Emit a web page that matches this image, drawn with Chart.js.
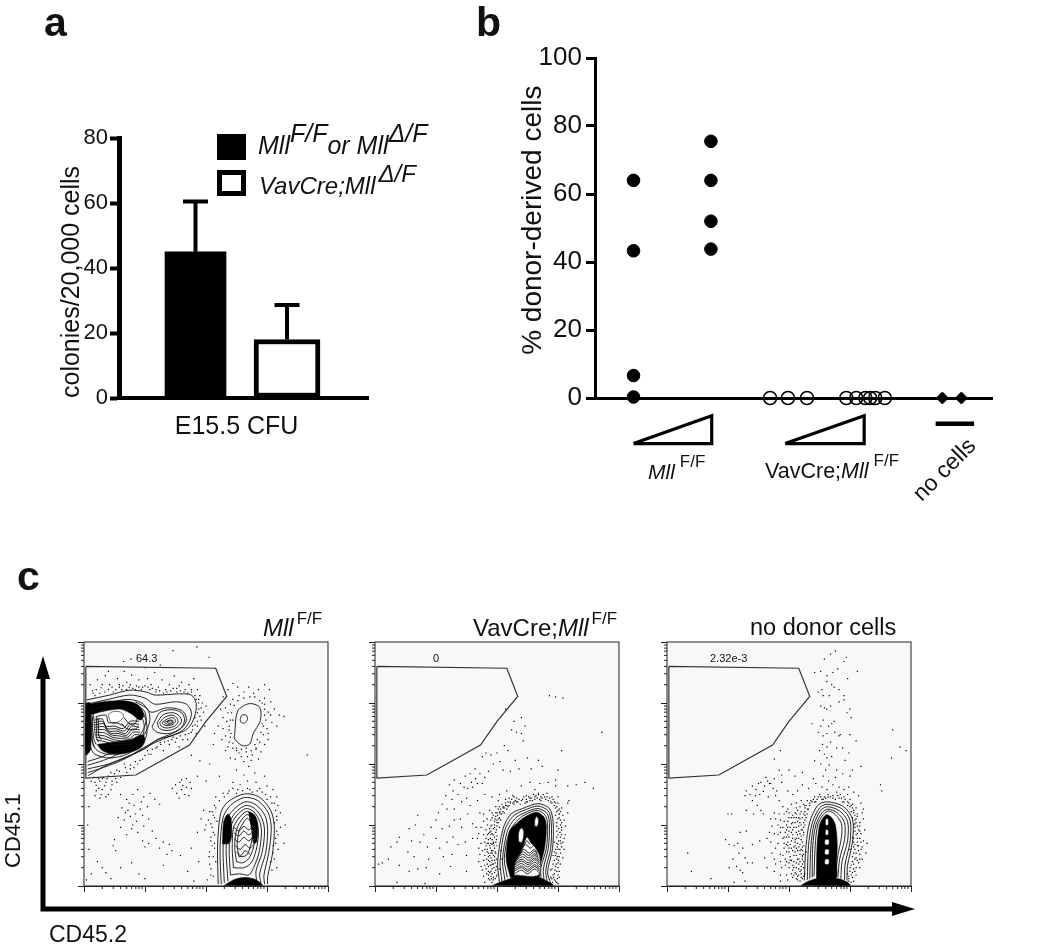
<!DOCTYPE html>
<html>
<head>
<meta charset="utf-8">
<title>Mll donor chimerism</title>
<script src="https://cdn.jsdelivr.net/npm/chart.js@4"></script>
<style>
html, body { margin: 0; padding: 0; background: #fff; }
body { width: 1050px; height: 948px; position: relative; overflow: hidden; font-family: "Liberation Sans", Arial, sans-serif; color: #111; }
canvas { position: absolute; }
.t { position: absolute; white-space: nowrap; line-height: 1; font-size: 22px; }
.t i { font-style: italic; }
.up { position: relative; top: -12px; }
.sm { font-size: 17px; }
.swatch { position: absolute; box-sizing: border-box; width: 29px; height: 26px; border: 5px solid #000; }
</style>
</head>
<body>
<canvas id="chartA" width="330" height="322" style="left:57px;top:120px"></canvas>
<canvas id="chartB" width="484" height="420" style="left:516px;top:30px"></canvas>
<canvas id="chartC1" width="270" height="270" style="left:70px;top:630px"></canvas>
<canvas id="chartC2" width="270" height="270" style="left:361px;top:630px"></canvas>
<canvas id="chartC3" width="270" height="270" style="left:653px;top:630px"></canvas>

<svg width="1050" height="948" style="position:absolute;left:0;top:0;pointer-events:none">
  <path d="M43 675 V909 H895" fill="none" stroke="#000" stroke-width="5"/>
  <path d="M36 679 L43 656 L50 679 Z M892 902 L915 909 L892 916 Z" fill="#000"/>
</svg>

<div class="t" style="left:44px;top:2px;font-size:41px;font-weight:bold">a</div>
<div class="t" style="left:476px;top:2px;font-size:41px;font-weight:bold">b</div>
<div class="t" style="left:17px;top:556px;font-size:41px;font-weight:bold">c</div>

<div class="swatch" style="left:217px;top:134px;background:#000"></div>
<div class="swatch" style="left:217px;top:170px;background:#fff"></div>
<div class="t" style="left:258px;top:133px;font-size:25px"><i>Mll<span class="up">F/F</span>or Mll<span class="up">&#916;/F</span></i></div>
<div class="t" style="left:259px;top:174px;font-size:24px"><i>VavCre;</i><i>Mll<span class="up" style="margin-left:3px">&#916;/F</span></i></div>

<div class="t" style="left:648px;top:461px;font-size:21px"><i>Mll</i><span class="up sm" style="margin-left:5px">F/F</span></div>
<div class="t" style="left:765px;top:461px;font-size:21.5px">VavCre;<i>Mll</i><span class="up sm" style="margin-left:5px">F/F</span></div>
<div class="t" style="left:944px;top:458px;font-size:23px;transform:translate(-50%,0) rotate(-45deg);">no cells</div>

<div class="t" style="left:263px;top:616px;font-size:24px"><i>Mll</i><span class="up sm" style="margin-left:3px">F/F</span></div>
<div class="t" style="left:473px;top:616px;font-size:24px">VavCre;<i>Mll</i><span class="up sm" style="margin-left:3px">F/F</span></div>
<div class="t" style="left:750px;top:616px;font-size:23.5px">no donor cells</div>

<div class="t" style="left:134px;top:653px;font-size:11px;background:#f8f8f8;padding:0 2px">64.3</div>
<div class="t" style="left:431px;top:653px;font-size:11px;background:#f8f8f8;padding:0 2px">0</div>
<div class="t" style="left:708px;top:653px;font-size:11px;background:#f8f8f8;padding:0 2px">2.32e-3</div>

<div class="t" style="left:3px;top:795px;font-size:22px;transform-origin:0 0;transform:translate(-1px,73px) rotate(-90deg)">CD45.1</div>
<div class="t" style="left:49px;top:923px;font-size:23px">CD45.2</div>

<script>
// panel a : colonies
const barX = [1, 2];
const colonies = [45, 18];
const coloniesSd = [15.5, 10.6];
const coloniesTicks = [0, 20, 40, 60, 80];

// panel b : % donor-derived cells
const floxX = [9.7, 9.7, 9.7, 9.7, 29.2, 29.2, 29.2, 29.2];
const floxY = [64, 43.3, 6.6, 0.3, 75.5, 64, 52, 43.8];
const creX = [44.1, 48.6, 53.4, 63.3, 65.8, 68.1, 69.3, 70.6, 73];
const creY = [0, 0, 0, 0, 0, 0, 0, 0, 0];
const noCellsX = [87.5, 92.3];
const noCellsY = [0, 0];
const donorTicks = [0, 20, 40, 60, 80, 100];
const wedgeFlox = [[9.7, -13.4], [29.4, -13.4], [29.4, -5.2], [9.7, -13.4]];
const wedgeCre = [[47.9, -13.4], [67.8, -13.4], [67.8, -5.2], [47.9, -13.4]];
const noCellsBar = [[85.8, -7.6], [95.5, -7.6]];

// panel c : flow plots, 100 units = one log decade
const decades = [0, 100, 200, 300, 400];
const minorOffsets = [30, 48, 60, 70, 78, 85, 90, 95];
const gate = [[3, 360], [216, 357], [234, 311], [200, 270], [173, 231], [85, 182], [3, 177], [3, 360]];

const dots1 = [[65,368],[77,372],[146,386],[205,375],[185,392],[40,352],[100,358],[125,362],
[10,330],[14,320],[22,338],[28,325],[35,345],[42,330],[48,318],[55,340],[58,326],[66,352],[70,334],[78,346],[84,322],[90,338],[96,326],[104,340],[110,330],[116,350],[122,326],[128,338],[134,322],[140,330],[148,344],[152,324],[160,334],[166,322],[172,330],[180,340],[186,322],[190,312],[194,300],[188,290],[196,285],[200,295],[192,272],[198,262],[186,262],[184,250],[176,252],[170,240],[162,240],[150,236],[156,228],[140,232],[130,222],[120,228],[110,216],[96,208],[88,200],[76,192],[66,200],[54,190],[44,186],[30,176],[18,170],[24,160],[34,164],[40,150],[28,150],[46,172],[60,178],[20,165],[26,172],[36,170],[12,172],[52,176],[70,186],[82,194],[104,222],[125,235],[144,240],[178,262],[182,276],[188,306],[176,322],[156,328],[118,322],[105,326],[86,328],[74,326],[62,322],[30,330],[18,312],
[228,310],[236,322],[244,332],[252,326],[262,318],[270,326],[278,316],[286,322],[296,330],[304,322],[296,308],[306,302],[312,290],[320,280],[302,285],[298,272],[308,268],[300,258],[316,262],[328,278],[294,248],[302,240],[288,236],[282,224],[290,220],[276,215],[266,220],[254,218],[244,226],[238,236],[232,246],[228,258],[238,262],[228,276],[236,284],[224,290],[240,298],[220,262],[226,240],[214,250],[212,232],[232,222],[248,208],[262,204],[240,210],[274,206],[286,208],[244,306],[254,312],[292,300],[296,290],[294,262],[282,226],[250,226],[241,250],[240,272],
[250,190],[262,182],[270,196],[280,185],[244,170],[256,166],[268,172],[282,170],[296,180],[238,156],[250,152],[272,158],[288,160],[300,164],[310,158],[316,146],[318,132],[322,120],[316,108],[322,96],[318,84],[314,70],[318,60],[312,44],[316,30],[222,180],[206,200],[190,205],[176,214],[200,172],[186,180],
[212,116],[218,106],[210,96],[204,108],[192,110],[198,92],[214,84],[208,74],[214,62],[205,48],[216,40],[208,28],[212,16],[200,100],[186,88],[216,128],[222,140],[230,146],[300,142],[308,136],[214,70],[206,122],[196,124],
[145,160],[152,152],[157,170],[162,165],[168,176],[165,150],[172,148],[160,158],[176,160],[156,144],[168,162],[160,174],[150,166],[174,170],
[60,150],[70,142],[80,150],[88,158],[98,146],[108,152],[116,142],[124,134],[62,128],[72,124],[82,132],[92,126],[104,130],[56,112],[66,108],[76,114],[86,106],[96,116],[106,110],[60,96],[78,94],[88,88],[98,98],[112,90],[70,84],[84,118],[74,136],[94,138],[80,100],[68,120],
[50,76],[48,66],[52,58],[96,74],[100,64],[106,70],[118,78],[124,62],[130,72],[140,68],[144,58],[136,52],[30,30],[36,22],[44,12],[22,40],[8,60],[6,100],[8,130],[12,20],[4,10],[60,30],[78,38],[90,20],[100,12],[130,34],[170,24],[158,50],[176,62],[188,40],[180,8],[330,100],[328,70],[366,215]];
const halo1 = [[15,316],[20,322],[26,316],[34,318],[40,322],[46,326],[52,322],[58,330],[64,328],[70,322],[76,330],[80,324],[90,326],[94,322],[100,328],[108,322],[112,324],[118,318],[124,320],[130,316],[136,318],[142,320],[146,324],[152,318],[158,320],[164,318],[170,316],[176,318],[182,312],[184,306],[188,300],[192,292],[186,284],[190,278],[186,270],[182,264],[178,256],[172,250],[166,248],[158,246],[152,242],[146,244],[138,238],[132,236],[126,232],[118,226],[112,224],[106,216],[100,214],[92,206],[84,204],[76,198],[68,194],[58,188],[50,184],[40,180],[32,178],[24,176],[16,178],[38,176],[46,166],[54,170],[30,158],[20,156],[36,146],[44,158],[26,144],[18,148],
[280,310],[272,310],[262,308],[252,304],[246,296],[242,284],[244,272],[238,256],[240,244],[244,234],[250,222],[258,224],[266,226],[274,222],[280,232],[284,240],[290,252],[292,266],[296,280],[296,298],[288,304],[234,270],[232,292],[306,280],[302,250],[296,232],[258,212],[268,212],[236,228],
[236,152],[244,160],[252,158],[260,156],[268,160],[276,154],[284,156],[292,154],[298,150],[306,146],[312,136],[314,124],[316,114],[312,104],[316,90],[314,78],[310,66],[310,54],[306,40],[308,26],[214,132],[210,122],[214,112],[208,102],[212,88],[208,80],[210,66],[206,56],[212,48],[206,36],[208,18],[202,10],[216,146],[228,152]];

const dots2 = [[286,312],[296,310],[308,308],[372,252],[214,290],[228,270],[224,256],[240,276],[246,262],[232,252],[240,250],[243,238],[212,230],[218,222],[200,218],[190,215],[182,218],[176,212],[205,204],[194,200],[230,206],[250,210],[268,206],[274,196],[256,192],[236,192],[222,188],[210,190],[186,188],[300,190],[306,222],[344,170],[358,160],[316,164],[330,166],[316,136],[300,146],
[164,192],[156,184],[165,176],[172,184],[180,178],[148,180],[158,170],[168,168],[176,168],[140,168],[146,162],[152,160],[160,162],[130,174],[128,156],[122,166],[116,148],[126,142],[136,150],[110,134],[118,126],[104,120],[130,126],[142,138],[150,144],[156,132],[168,140],[180,150],[192,146],[204,150],[216,156],[228,146],[240,164],[254,170],[262,158],[270,168],[284,170],[296,164],[296,174],
[70,116],[56,94],[66,100],[80,84],[92,96],[100,108],[110,94],[122,98],[130,108],[140,110],[152,118],[160,102],[172,120],[178,106],[142,96],[128,80],[118,72],[106,62],[100,78],[86,64],[74,72],[60,74],[40,80],[26,64],[36,72],[54,56],[64,48],[88,44],[112,48],[126,52],[136,68],[148,72],[160,78],[170,86],[180,60],[190,70],[150,50],[124,32],[106,20],[84,30],[70,28],[56,24],[40,34],[22,44],[6,36],[12,38],[36,6],[82,4],[150,24],[170,40],[178,16],
[192,20],[190,34],[186,48],[184,60],[194,70],[190,84],[196,96],[200,108],[204,120],[210,128],[186,24],[180,34],[194,14],[198,26],[196,42],[198,54],[200,66],[192,54],[186,76],[200,82],[204,96],[206,108],[212,120],[216,132],[222,138],[228,134],[234,138],[242,142],[250,138],[256,144],[264,148],[272,146],[280,142],[288,138],[294,132],[298,122],[300,110],[304,100],[298,90],[304,80],[300,68],[308,72],[296,60],[304,54],[298,44],[292,36],[300,30],[294,20],[302,14],[290,12],[296,8],[310,60],[312,84],[310,108],[306,128],[316,120],[318,140],
[180,6],[188,10],[192,6],[176,26],[172,52],[178,84],[184,100],[192,120],[198,130],[202,140],[214,142],[226,148],[248,148],[268,152],[282,152],[290,146],[302,118],[306,92],[294,72],[292,50],[288,26],[300,4],[206,58],[208,44],[204,28],[200,18]];
const halo2 = [[194,10],[190,16],[186,12],[183,20],[196,22],[192,28],[186,32],[182,28],[194,36],[188,40],[183,44],[196,48],[190,46],[186,54],[180,50],[193,58],[189,62],[182,66],[196,62],[198,72],[192,76],[186,70],[182,78],[196,80],[190,90],[186,86],[198,88],[194,94],[188,94],[200,98],[192,100],[196,106],[202,104],[190,108],[198,114],[204,112],[194,116],[208,118],[200,120],[206,126],[212,128],[202,126],[208,134],[216,126],[214,136],[220,132],[224,142],[220,144],[230,140],[226,136],[236,142],[238,134],[244,146],[246,136],[252,146],[254,140],[260,150],[258,140],[266,144],[268,150],[274,144],[276,150],[282,146],[284,140],[292,142],[290,136],[296,128],[296,136],[300,124],[296,116],[302,112],[298,104],[304,108],[298,98],[306,96],[300,84],[306,84],[298,80],[304,74],[298,70],[306,64],[300,60],[294,56],[302,48],[296,50],[294,42],[300,38],[296,32],[290,28],[298,24],[292,18],[300,18],[294,10],[288,14],[298,6],[304,36],[308,46],[310,78],[312,98],[308,116],[304,122],[300,136],[272,140],[262,142],[248,142],[232,144],[218,138],[206,118],[200,104],[194,84],[192,68],[190,54],[192,42],[190,24],[186,18],[184,36],[178,42],[174,32],[176,58],[180,72],[182,92],[174,70],[170,62],[168,78],[184,110],[188,124],[178,118],[166,96],[174,96],
[197,12],[199,16],[191,12],[188,22],[199,32],[195,30],[189,34],[197,38],[192,36],[186,42],[199,44],[194,50],[188,50],[184,56],[197,56],[191,58],[195,66],[188,66],[184,70],[199,76],[194,72],[189,78],[184,84],[199,92],[192,86],[188,88],[196,100],[190,98],[203,110],[197,110],[192,112],[201,116],[205,122],[198,120],[210,122],[204,130],[210,130],[214,132],[218,130],[222,136],[228,138],[232,138],[240,140],[248,138],[254,144],[262,146],[270,142],[278,146],[286,144],[294,138],[298,130],[302,126],[302,118],[306,104],[301,94],[303,88],[305,70],[301,74],[299,64],[303,60],[297,54],[299,48],[301,42],[297,36],[302,24],[295,26],[293,14],[299,12],[291,6]];

const dots3 = [[268,380],[276,385],[258,372],[290,368],[294,375],[252,352],[272,350],[280,356],[262,345],[242,350],[312,352],[262,335],[270,330],[254,322],[248,318],[256,312],[266,312],[274,326],[282,322],[296,340],[290,312],[290,305],[252,295],[258,292],[262,290],[268,295],[282,302],[295,284],[300,290],[256,272],[238,266],[252,262],[270,266],[274,270],[265,262],[302,276],[248,252],[256,246],[262,250],[275,252],[284,248],[282,246],[300,248],[310,238],[255,232],[262,228],[268,236],[278,226],[288,226],[298,218],[250,222],[258,216],[262,210],[270,212],[242,205],[252,200],[260,190],[266,198],[278,190],[292,206],[304,190],[318,196],[370,256],[382,228],[392,222],[368,210],[176,208],[186,222],[200,190],[184,190],[188,182],[176,176],[168,168],[210,180],[222,186],[240,176],[256,180],[265,172],[276,178],[288,184],[300,180],[350,166],[352,156],
[140,164],[146,158],[150,168],[154,170],[160,164],[165,172],[170,168],[174,160],[180,156],[162,178],[158,155],[152,150],[145,148],[136,150],[130,156],[128,148],[140,140],[148,132],[154,124],[158,118],[142,118],[130,124],[166,146],[178,148],[184,140],[188,170],[198,156],[206,150],[214,156],[222,166],[232,160],[244,168],[254,162],[262,158],[272,166],[282,162],[290,158],[298,162],[306,154],[314,148],[318,136],[322,126],
[100,118],[106,118],[130,90],[120,88],[96,76],[102,68],[110,66],[116,70],[124,62],[118,54],[128,46],[132,38],[108,44],[102,30],[114,32],[120,26],[124,22],[140,68],[152,74],[140,38],[160,46],[164,30],[128,8],[110,6],[34,54],[40,24],[72,12],[176,24],[186,8],
[190,130],[196,122],[184,118],[200,112],[192,106],[206,104],[212,118],[218,130],[186,96],[196,92],[204,88],[212,96],[218,104],[178,110],[172,98],[182,84],[190,78],[198,72],[206,78],[214,84],[220,92],[226,116],[232,126],[192,62],[200,56],[208,64],[214,70],[220,76],[186,52],[194,44],[204,42],[212,50],[218,58],[222,64],[200,30],[208,30],[216,36],[222,44],[212,20],[218,24],[224,30],[206,14],[214,10],[220,14],[226,20],[196,18],[178,62],[170,72],[176,44],[188,30],[196,100],[208,112],[224,84],[216,44],[222,50],[210,56],[202,68],[198,84],[210,76],[226,100],[228,56],
[236,140],[242,146],[250,150],[258,146],[264,150],[272,148],[278,154],[284,150],[290,146],[296,150],[300,142],[304,134],[310,128],[306,120],[312,114],[308,108],[316,104],[312,98],[308,90],[318,86],[312,78],[306,72],[314,66],[318,60],[310,54],[304,48],[312,42],[306,36],[300,30],[308,24],[302,18],[298,12],[306,8],[316,30],[322,74],[324,92],[328,70],[322,110],[320,120],[300,60],[304,80],[296,20],[230,140],[226,128],[220,140],[244,138],[254,142],[288,138],[296,138],[326,54],[320,44]];
const halo3 = [[222,12],[218,8],[214,16],[220,20],[216,28],[210,22],[222,36],[218,40],[212,38],[206,34],[222,48],[218,52],[214,58],[208,50],[202,48],[222,58],[218,68],[212,62],[206,58],[200,62],[222,72],[216,78],[210,72],[204,74],[198,66],[224,88],[218,86],[212,88],[206,84],[200,80],[194,88],[224,96],[220,100],[214,106],[208,96],[202,96],[196,80],[226,108],[222,112],[216,112],[210,120],[204,112],[198,106],[230,118],[226,122],[220,122],[214,124],[228,132],[224,134],[234,132],[238,138],[246,142],[240,142],[252,146],[260,144],[268,146],[276,142],[280,148],[286,144],[292,142],[298,136],[304,128],[302,122],[308,116],[312,118],[310,104],[314,92],[308,96],[316,78],[310,84],[306,64],[312,72],[316,52],[308,60],[304,40],[310,46],[314,38],[300,24],[306,28],[298,16],[304,14],[310,18],[296,6],[302,6],[306,100],[304,112],[300,130],[212,30],[206,26],[200,38],[194,34],[186,40],[190,50],[182,70],[186,88],[190,96],[182,100],[176,86],[170,110],[176,120],[186,108],[192,118],[198,126],[204,134],[212,136],[192,70],[196,56],[204,20],[198,10],[186,18],[178,36],[172,54],[168,88],[164,78],
[224,16],[220,26],[216,18],[212,12],[208,18],[224,40],[220,32],[214,44],[208,40],[202,42],[196,40],[224,52],[220,60],[216,64],[210,66],[204,62],[196,68],[224,66],[220,82],[216,90],[212,78],[206,92],[200,90],[192,80],[222,92],[216,98],[210,104],[204,102],[198,96],[224,104],[218,110],[212,112],[206,116],[200,120],[228,112],[224,118],[218,118],[212,128],[230,126],[226,132],[234,136],[242,138],[248,146],[256,142],[264,146],[272,144],[282,144],[290,138],[296,132],[302,132],[306,124],[310,110],[308,102],[312,86],[306,78],[308,68],[314,58],[306,54],[308,44],[302,34],[310,30],[304,22],[298,8],[312,66],[316,90],[316,98],[318,72],[320,64],[316,44]];

const outline1 = [
  [[4,305],[42,313],[75,321],[102,318],[116,313],[157,315],[176,313],[184,299],[181,277],[170,258],[146,247],[124,241],[100,228],[70,211],[37,198],[7,181]],
  [[4,298],[40,306],[75,313],[100,308],[116,298],[150,302],[168,298],[176,285],[172,268],[160,254],[135,243],[110,232],[85,218],[55,203],[25,192],[6,186]],
  [[4,292],[40,300],[72,306],[95,300],[110,285],[135,292],[160,288],[168,275],[163,262],[145,250],[120,240],[100,225],[70,212],[40,200],[6,192]],
  [[115,268],[125,285],[145,289],[160,284],[165,272],[158,258],[140,250],[120,252],[112,260],[115,268]],
  [[120,268],[130,281],[146,284],[156,279],[160,270],[152,260],[138,255],[124,258],[120,268]],
  [[124,268],[133,277],[146,280],[153,274],[154,268],[148,262],[136,259],[127,262],[124,268]],
  [[128,268],[137,274],[146,276],[150,271],[146,265],[136,263],[130,265],[128,268]],
  [[132,268],[140,272],[146,271],[145,267],[137,265],[132,268]],
  [[136,269],[143,271],[145,268],[138,267],[136,269]],
  [[247,249],[252,287],[271,299],[288,293],[289,271],[277,249],[272,233],[260,230],[247,241],[247,249]],
  [[256,273],[259,280],[266,280],[268,273],[263,267],[257,269],[256,273]],
  [[220,3],[219,64],[224,119],[236,138],[263,151],[287,146],[306,124],[312,97],[309,53],[301,15],[301,3]],
  [[225,3],[223,60],[228,112],[240,132],[263,145],[285,140],[302,120],[307,95],[303,55],[295,18],[296,3]],
  [[230,5],[228,60],[232,105],[245,125],[264,138],[282,133],[297,115],[301,92],[298,55],[288,20],[290,5]],
  [[236,8],[233,60],[237,100],[248,120],[265,132],[280,127],[292,110],[296,90],[292,55],[282,25],[283,8]],
  [[6,198],[32,206],[60,218],[85,232],[100,250],[108,272],[104,290],[84,302]],
  [[6,204],[30,212],[56,224],[82,238],[96,254],[102,272],[98,288],[82,298]]
];
const solid1 = [
  [[6,298],[40,303],[72,303],[90,296],[98,280],[92,272],[78,282],[60,290],[40,288],[22,284],[10,282],[6,298]],
  [[3,300],[10,300],[11,225],[3,215],[3,300]],
  [[22,232],[50,236],[76,240],[96,248],[100,238],[92,226],[70,218],[48,216],[30,222],[22,232]],
  [[227,69],[229,105],[236,118],[241,110],[242,84],[238,70],[227,69]],
  [[270,122],[280,116],[285,100],[283,72],[278,70],[275,90],[272,108],[270,122]],
  [[230,1],[245,10],[262,14],[280,11],[292,1],[230,1]]
];
const light1 = [
  [[40,282],[48,286],[60,285],[65,278],[58,270],[48,266],[42,272],[40,282]]
];
const inner1 = [
  [[13,290],[40,295],[70,296],[92,290],[102,270],[102,245],[90,228],[65,214],[38,210],[14,220],[8,260],[13,290]],
  [[16,284],[40,290],[70,290],[88,284],[98,268],[97,248],[86,232],[62,220],[38,216],[18,226],[12,260],[16,284]],
  [[13,280],[14,260],[13,240],[16,228]],
  [[16,278],[17,260],[16,242],[20,232]],
  [[20,278],[21,260],[20,244],[24,236]],
  [[23,276],[24,262],[24,248],[28,240]],
  [[18,272],[30,274],[36,262],[50,262],[64,258],[76,270],[90,270]],
  [[18,268],[30,270],[38,258],[52,258],[66,254],[77,266],[90,265]],
  [[18,264],[32,266],[40,254],[54,254],[68,250],[78,262],[90,260]],
  [[18,260],[33,261],[42,251],[56,250],[70,247],[79,257],[91,256]],
  [[18,256],[34,256],[44,248],[58,246],[72,244],[80,252],[92,252]],
  [[18,252],[34,251],[46,244],[60,242],[74,241],[83,248],[90,248]],
  [[18,248],[34,246],[48,240],[62,238],[76,238],[86,244]],
  [[20,244],[35,241],[50,236],[64,235],[78,235]],
  [[20,240],[36,236],[52,232],[66,232],[80,232]],
  [[66,276],[72,268],[80,264],[86,270],[88,280]],
  [[62,266],[70,258],[82,256],[90,262]],
  [[20,278],[36,280],[40,268],[52,268],[66,262]],
  [[240,18],[238,60],[241,98],[250,115],[265,127],[278,122],[288,106],[291,88],[287,55],[278,30],[270,18],[255,20],[240,18]],
  [[245,30],[243,62],[245,95],[253,110],[266,122],[276,117],[284,102],[286,85],[282,58],[274,38],[262,30],[245,30]],
  [[250,40],[247,65],[250,92],[256,105],[267,117],[274,112],[280,98],[281,82],[277,60],[270,45],[260,38],[250,40]],
  [[254,48],[251,68],[254,90],[259,100],[267,111],[272,107],[276,94],[276,80],[272,62],[266,50],[254,48]],
  [[246,96],[254,90],[262,98],[270,92],[278,100]],
  [[246,87],[254,82],[262,90],[270,84],[278,90]],
  [[246,78],[254,72],[262,80],[270,74],[278,82]],
  [[248,66],[256,60],[264,68],[272,62],[278,68]],
  [[250,56],[257,50],[264,58],[272,52]]
];

const outline2 = [
  [[204,6],[201,39],[210,94],[223,118],[242,127],[267,135],[286,127],[292,105],[291,61],[283,23],[288,4]],
  [[208,8],[205,40],[213,92],[226,114],[244,124],[267,131],[284,123],[289,104],[288,62],[280,26],[282,8]],
  [[213,10],[209,42],[217,90],[229,110],[245,120],[267,127],[282,119],[286,102],[284,62],[276,28],[277,10]],
  [[217,14],[212,45],[220,88],[232,106],[246,117],[266,124],[279,116],[283,100],[281,62],[272,30],[272,14]]
];
const solid2 = [
  [[222,14],[215,45],[221,90],[234,104],[247,114],[265,121],[277,113],[281,97],[278,62],[270,30],[268,14],[222,14]],
  [[193,1],[210,8],[228,14],[250,17],[270,14],[282,8],[292,1],[193,1]]
];
const light2 = [
  [[228,18],[230,38],[240,56],[249,80],[256,70],[262,64],[270,48],[268,18],[228,18]],
  [[236,72],[241,72],[244,88],[241,95],[237,92],[235,82],[236,72]],
  [[262,98],[266,98],[268,108],[265,114],[262,108],[262,98]]
];
const inner2 = [
  [[228,20],[240,26],[250,20],[262,28],[270,20]],
  [[228,24],[240,30],[250,24],[262,32],[270,24]],
  [[228,27],[240,33],[250,27],[262,35],[270,27]],
  [[228,30],[240,37],[250,31],[262,39],[270,31]],
  [[229,34],[240,41],[251,35],[262,43],[270,35]],
  [[229,37],[241,44],[251,38],[262,46],[270,38]],
  [[230,41],[242,48],[252,42],[262,50],[269,42]],
  [[231,44],[242,52],[252,46],[262,53],[268,46]],
  [[233,48],[243,56],[252,50],[262,57],[267,50]],
  [[235,52],[244,60],[253,54],[261,60],[266,54]],
  [[240,60],[247,68],[254,62],[260,66]],
  [[244,66],[249,74],[254,68]]
];

const outline3 = [
  [[225,9],[228,67],[234,105],[247,132],[261,138],[288,131],[304,110],[304,72],[296,34],[295,9]],
  [[230,10],[232,66],[238,103],[250,128],[262,134],[286,127],[300,108],[300,72],[292,36],[291,10]],
  [[234,12],[236,66],[241,101],[252,124],[263,130],[283,123],[296,106],[296,74],[287,40],[285,12]],
  [[238,14],[239,66],[244,100],[254,120],[264,126],[279,120],[291,104],[291,76],[283,44],[280,14]],
  [[241,16],[243,66],[247,100],[256,117],[265,123],[276,117],[286,102],[286,80],[280,50],[276,16]]
];
const solid3 = [
  [[245,10],[246,66],[250,100],[256,112],[262,117],[270,112],[276,100],[279,70],[278,40],[276,10],[245,10]],
  [[220,1],[232,8],[246,12],[262,10],[280,12],[292,8],[300,1],[220,1]]
];
const light3 = [
  [[260,110],[264,110],[264,100],[260,100],[260,110]],
  [[260,92],[264,92],[264,84],[260,84],[260,92]],
  [[259,76],[265,76],[265,68],[259,68],[259,76]],
  [[259,60],[265,60],[265,52],[259,52],[259,60]],
  [[259,44],[265,44],[265,36],[259,36],[259,44]]
];
const inner3 = [];

const FONT = '"Liberation Sans", Arial, sans-serif';
Chart.defaults.font.family = FONT;
Chart.defaults.color = '#111';
Chart.defaults.animation = false;
Chart.defaults.events = [];

const toPoints = (pairs) => pairs.map(([x, y]) => ({ x, y }));
const zip = (xs, ys) => xs.map((x, i) => ({ x, y: ys[i] }));
const fixedSize = (size) => (scale) => {
    if (scale.isHorizontal()) scale.height = size; else scale.width = size;
};

// error bars for panel a, caps and stems placed through the scales
const errorBars = {
    id: 'errorBars',
    afterDatasetsDraw(chart) {
        const { ctx, scales: { x, y } } = chart;
        ctx.save();
        ctx.strokeStyle = '#000';
        ctx.lineWidth = 4;
        barX.forEach((v, i) => {
            const px = x.getPixelForValue(v);
            const top = y.getPixelForValue(colonies[i] + coloniesSd[i]);
            ctx.beginPath();
            ctx.moveTo(px, y.getPixelForValue(colonies[i]));
            ctx.lineTo(px, top);
            ctx.moveTo(px - 12.5, top);
            ctx.lineTo(px + 12.5, top);
            ctx.stroke();
        });
        ctx.restore();
    }
};

new Chart(document.getElementById('chartA'), {
    type: 'bar',
    data: {
        datasets: [
            { label: 'MllF/F or MllΔ/F', data: [{ x: barX[0], y: colonies[0] }], backgroundColor: '#000', barThickness: 61 },
            { label: 'VavCre;MllΔ/F', data: [{ x: barX[1], y: colonies[1] }], backgroundColor: '#fff', borderColor: '#000', borderWidth: 5, borderSkipped: false, barThickness: 66 }
        ]
    },
    options: {
        responsive: false,
        grouped: false,
        layout: { padding: { top: 18, right: 19 } },
        plugins: { legend: { display: false }, tooltip: { enabled: false } },
        scales: {
            x: {
                type: 'linear', min: 0.164, max: 2.885, offset: false,
                afterFit: fixedSize(44),
                border: { color: '#000', width: 4 },
                grid: { display: false },
                ticks: { display: false },
                title: { display: true, text: 'E15.5 CFU\u00a0\u00a0', font: { size: 25 }, padding: 0 }
            },
            y: {
                min: 0, max: 80,
                afterFit: fixedSize(62),
                afterBuildTicks: (s) => { s.ticks = coloniesTicks.map((value) => ({ value })); },
                border: { color: '#000', width: 5 },
                grid: { drawOnChartArea: false, tickLength: 9, tickWidth: 4, tickColor: '#000' },
                ticks: { font: { size: 22 }, padding: 2, color: '#111' },
                title: { display: true, text: 'colonies/20,000 cells', align: 'start', font: { size: 25 }, padding: 0 }
            }
        }
    },
    plugins: [errorBars]
});

new Chart(document.getElementById('chartB'), {
    type: 'scatter',
    data: {
        datasets: [
            { label: 'Mll F/F', data: zip(floxX, floxY), pointRadius: 6.3, backgroundColor: '#000', borderColor: '#000', clip: false },
            { label: 'VavCre;Mll F/F', data: zip(creX, creY), pointRadius: 6.5, borderWidth: 1.5, backgroundColor: 'rgba(0,0,0,0)', borderColor: '#000', clip: false },
            { label: 'no cells', data: zip(noCellsX, noCellsY), pointStyle: 'rectRot', pointRadius: 6, backgroundColor: '#000', borderColor: '#000', clip: false },
            { data: toPoints(wedgeFlox), showLine: true, pointRadius: 0, borderWidth: 3.2, borderColor: '#000', clip: false },
            { data: toPoints(wedgeCre), showLine: true, pointRadius: 0, borderWidth: 3.2, borderColor: '#000', clip: false },
            { data: toPoints(noCellsBar), showLine: true, pointRadius: 0, borderWidth: 4.5, borderColor: '#000', clip: false }
        ]
    },
    options: {
        responsive: false,
        layout: { padding: { top: 28, right: 3 } },
        plugins: { legend: { display: false }, tooltip: { enabled: false } },
        scales: {
            x: {
                type: 'linear', min: 0, max: 100,
                afterFit: fixedSize(52),
                border: { color: '#000', width: 3 },
                grid: { display: false },
                ticks: { display: false }
            },
            y: {
                min: 0, max: 100,
                afterFit: fixedSize(79),
                afterBuildTicks: (s) => { s.ticks = donorTicks.map((value) => ({ value })); },
                border: { color: '#000', width: 3 },
                grid: { drawOnChartArea: false, tickLength: 9, tickWidth: 3, tickColor: '#000' },
                ticks: { font: { size: 26 }, padding: 4, color: '#111' },
                title: { display: true, text: '\u00a0\u00a0% donor-derived cells', font: { size: 28 }, padding: 0 }
            }
        }
    }
});

// grey plot area, box and the short log ticks of the flow plots
const flowFrame = {
    id: 'flowFrame',
    beforeDatasetsDraw(chart) {
        const { ctx, chartArea: a } = chart;
        ctx.save();
        ctx.fillStyle = '#f8f8f8';
        ctx.fillRect(a.left, a.top, a.width, a.height);
        ctx.restore();
    },
    afterDraw(chart) {
        const { ctx, chartArea: a, scales: { x, y } } = chart;
        ctx.save();
        ctx.strokeStyle = '#222';
        ctx.lineWidth = 1;
        ctx.strokeRect(a.left, a.top, a.width, a.height);
        ctx.beginPath();
        decades.slice(0, 4).forEach((d) => {
            minorOffsets.forEach((m) => {
                const px = x.getPixelForValue(d + m);
                const py = y.getPixelForValue(d + m);
                ctx.moveTo(px, a.bottom);
                ctx.lineTo(px, a.bottom + 3);
                ctx.moveTo(a.left, py);
                ctx.lineTo(a.left - 3, py);
            });
        });
        ctx.stroke();
        ctx.restore();
    }
};

function contourSet(pairs, color, width, fillColor) {
    return {
        data: toPoints(pairs),
        showLine: true,
        pointRadius: 0,
        tension: 0.3,
        borderColor: color,
        borderWidth: width,
        backgroundColor: fillColor || 'rgba(0,0,0,0)',
        fill: fillColor ? 'shape' : false
    };
}

function flowChart(id, dots, outline, solid, light, inner) {
    const layers = [
        { data: toPoints(dots), pointStyle: 'rect', pointRadius: 0.85, borderWidth: 0, backgroundColor: '#000' },
        { data: toPoints(gate), showLine: true, pointRadius: 0, borderColor: '#333', borderWidth: 1.2 },
        ...outline.map((c) => contourSet(c, '#111', 0.9)),
        ...solid.map((c) => contourSet(c, '#000', 0.5, '#000')),
        ...light.map((c) => contourSet(c, '#333', 0.7, '#fff')),
        ...inner.map((c) => contourSet(c, '#111', 0.9))
    ];
    // later layers lie on top
    layers.forEach((d, i) => { d.order = layers.length - i; });
    return new Chart(document.getElementById(id), {
        type: 'scatter',
        data: { datasets: layers },
        options: {
            responsive: false,
            layout: { padding: { top: 12, right: 12 } },
            plugins: { legend: { display: false }, tooltip: { enabled: false } },
            scales: {
                x: {
                    type: 'linear', min: 0, max: 400,
                    afterFit: fixedSize(14),
                    afterBuildTicks: (s) => { s.ticks = decades.map((value) => ({ value })); },
                    border: { color: '#222', width: 1 },
                    grid: { drawOnChartArea: false, tickLength: 6, tickColor: '#222' },
                    ticks: { display: false }
                },
                y: {
                    min: 0, max: 400,
                    afterFit: fixedSize(14),
                    afterBuildTicks: (s) => { s.ticks = decades.map((value) => ({ value })); },
                    border: { color: '#222', width: 1 },
                    grid: { drawOnChartArea: false, tickLength: 6, tickColor: '#222' },
                    ticks: { display: false }
                }
            }
        },
        plugins: [flowFrame]
    });
}

flowChart('chartC1', dots1.concat(halo1), outline1, solid1, light1, inner1);
flowChart('chartC2', dots2.concat(halo2), outline2, solid2, light2, inner2);
flowChart('chartC3', dots3.concat(halo3), outline3, solid3, light3, inner3);
</script>
</body>
</html>
